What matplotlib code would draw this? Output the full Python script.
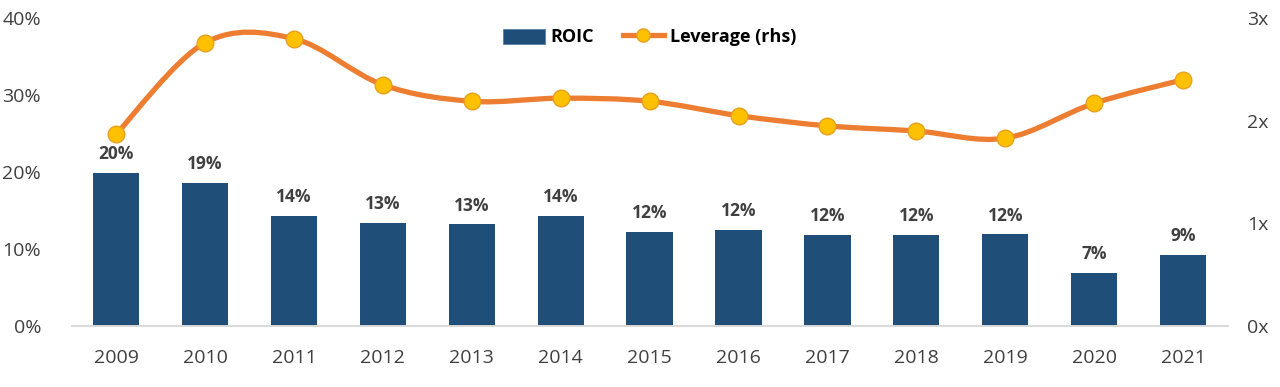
import numpy as np
import matplotlib.pyplot as plt
from matplotlib.path import Path
from matplotlib.patches import PathPatch, Patch
from matplotlib.lines import Line2D
from matplotlib.ticker import FuncFormatter

plt.rcParams['font.family'] = ['Open Sans', 'DejaVu Sans']

years = ['2009', '2010', '2011', '2012', '2013', '2014', '2015',
         '2016', '2017', '2018', '2019', '2020', '2021']
roic = [19.9, 18.6, 14.3, 13.4, 13.2, 14.3, 12.2, 12.5, 11.8, 11.8, 11.9, 6.9, 9.2]
roic_labels = ['20%', '19%', '14%', '13%', '13%', '14%', '12%',
               '12%', '12%', '12%', '12%', '7%', '9%']
leverage = [1.87, 2.76, 2.80, 2.35, 2.19, 2.22, 2.19, 2.05, 1.95, 1.90, 1.83, 2.17, 2.40]

bar_color = '#1F4E79'
line_color = '#ED7D31'
marker_face = '#FFC000'
text_grey = '#404040'

fig = plt.figure(figsize=(12.8, 3.87), dpi=100)
ax = fig.add_axes([0.056, 0.158, 0.903, 0.795])
ax2 = ax.twinx()

x = np.arange(len(years))
ax.bar(x, roic, width=0.52, color=bar_color, zorder=2)
for xi, v, lab in zip(x, roic, roic_labels):
    ax.annotate(lab, (xi, v), xytext=(0, 7), textcoords='offset points',
                ha='center', va='bottom', fontsize=12.5, fontweight='bold',
                color=text_grey)

ax.set_ylim(0, 40)
ax.set_xlim(-0.5, 12.5)
ax.set_yticks([0, 10, 20, 30, 40])
ax.yaxis.set_major_formatter(FuncFormatter(lambda v, p: f'{v:.0f}%'))
ax.set_xticks(x)
ax.set_xticklabels(years)

# smoothed line (Catmull-Rom style, like Excel's smoothed line)
pts = np.column_stack([x, leverage]).astype(float)
verts = [pts[0]]
codes = [Path.MOVETO]
n = len(pts)
for i in range(n - 1):
    p0 = pts[i - 1] if i > 0 else pts[i]
    p1 = pts[i]
    p2 = pts[i + 1]
    p3 = pts[i + 2] if i + 2 < n else pts[i + 1]
    c1 = p1 + (p2 - p0) / 6.0
    c2 = p2 - (p3 - p1) / 6.0
    verts += [c1, c2, p2]
    codes += [Path.CURVE4] * 3
ax2.add_patch(PathPatch(Path(verts, codes), facecolor='none',
                        edgecolor=line_color, lw=3.8, zorder=3,
                        capstyle='round', joinstyle='round'))
ax2.plot(x, leverage, ls='none', marker='o', ms=12, mfc=marker_face,
         mec='#E8A020', mew=1.0, zorder=4)
ax2.set_ylim(0, 3)
ax2.set_yticks([0, 1, 2, 3])
ax2.yaxis.set_major_formatter(FuncFormatter(lambda v, p: f'{v:.0f}x'))

for a in (ax, ax2):
    for s in ['top', 'left', 'right']:
        a.spines[s].set_visible(False)
    a.spines['bottom'].set_color('#D9D9D9')
    a.spines['bottom'].set_linewidth(1.2)
    a.tick_params(length=0, labelsize=14, colors=text_grey)
ax.tick_params(axis='y', pad=22)
ax2.tick_params(axis='y', pad=14)
ax.tick_params(axis='x', pad=17)

handles = [Patch(facecolor=bar_color, edgecolor='#5B7FA6', lw=0.6),
           Line2D([0], [0], color=line_color, lw=3.8, marker='o', ms=9.5,
                  mfc=marker_face, mec='#E8A020')]
leg = ax2.legend(handles, ['ROIC', 'Leverage (rhs)'], loc='upper center',
                 bbox_to_anchor=(0.5, 1.02), ncol=2, frameon=False,
                 prop={'weight': 'bold', 'size': 13}, handlelength=2.3,
                 handleheight=0.9, handletextpad=0.3, columnspacing=1.6)

fig.savefig('out.png', dpi=100)
